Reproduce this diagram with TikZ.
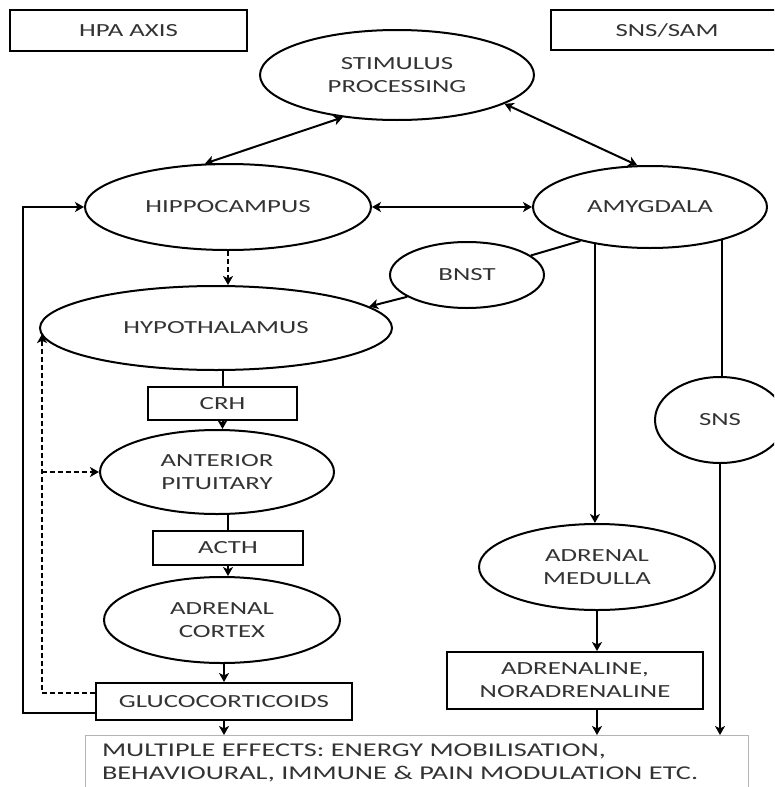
\documentclass[tikz,border=0pt]{standalone}
\usepackage{fontspec}
\setmainfont{Carlito}[FakeStretch=1.45]
\usetikzlibrary{shapes.geometric,arrows.meta}
\definecolor{txt}{HTML}{333333}
\definecolor{effline}{HTML}{B4B4B4}
\begin{document}
\begin{tikzpicture}[x=1pt,y=-1pt,
  nodefont/.style={font=\fontsize{18.5}{23}\selectfont},
  ell/.style={ellipse, draw, line width=2pt, inner sep=0pt, fill=white, nodefont, text=txt, align=center},
  box/.style={rectangle, draw, line width=2pt, inner sep=0pt, fill=white, nodefont, text=txt, align=center},
  effbox/.style={rectangle, draw=effline, line width=1pt, inner xsep=14pt, inner ysep=0pt, text height=21pt, text depth=45pt, fill=white, font=\fontsize{19.5}{22.5}\selectfont, text=txt, align=left, text width=630pt},
  conn/.style={line width=2pt},
  arr/.style={conn, -{Stealth[length=9pt,width=10pt,inset=2.5pt]}},
  dbl/.style={conn, {Stealth[length=9pt,width=10pt,inset=2.5pt]}-{Stealth[length=9pt,width=10pt,inset=2.5pt]}},
  dsh/.style={dash pattern=on 5pt off 3pt}]
\useasboundingbox (0,0) rectangle (774,787);
\clip (0,0) rectangle (774,787);
\fill[white] (0,0) rectangle (774,787);

% nodes
\node[box, minimum width=237pt, minimum height=41pt] (hpa) at (128.5,30.5) {HPA AXIS};
\node[box, minimum width=232pt, minimum height=40pt] (sam) at (667,30) {SNS/SAM};
\node[ell, minimum width=274pt, minimum height=90pt] (stim) at (397,75) {STIMULUS\\PROCESSING};
\node[ell, minimum width=286pt, minimum height=86pt] (hippo) at (228,207) {HIPPOCAMPUS};
\node[ell, minimum width=234pt, minimum height=82pt] (amyg) at (650,207) {AMYGDALA};
\node[ell, minimum width=154pt, minimum height=66pt] (bnst) at (467,275) {BNST};
\node[ell, minimum width=352pt, minimum height=84pt] (hypo) at (216,328) {HYPOTHALAMUS};
\node[box, minimum width=149pt, minimum height=33pt] (crh) at (222.5,403.5) {CRH};
\node[ell, minimum width=234pt, minimum height=84pt] (ap) at (217,472) {ANTERIOR\\PITUITARY};
\node[box, minimum width=150pt, minimum height=34pt] (acth) at (228,548) {ACTH};
\node[ell, minimum width=236pt, minimum height=86pt] (ac) at (222,620) {ADRENAL\\CORTEX};
\node[box, minimum width=256pt, minimum height=37pt] (gluco) at (224,701.5) {GLUCOCORTICOIDS};
\node[ell, minimum width=236pt, minimum height=86pt] (am) at (597,567) {ADRENAL\\MEDULLA};
\node[box, minimum width=256pt, minimum height=57pt] (adr) at (575,680.5) {ADRENALINE,\\NORADRENALINE};
\node[ell, minimum width=130pt, minimum height=86pt] (sns) at (720,420) {SNS};
\node[effbox, anchor=north west, minimum width=663pt] (eff) at (85,735) {MULTIPLE EFFECTS: ENERGY MOBILISATION,\\BEHAVIOURAL, IMMUNE \& PAIN MODULATION ETC.};

% connectors
\draw[dbl] (stim.218) -- (hippo.118);
\draw[dbl] (stim.345) -- (amyg.107);
\draw[dbl] (hippo.east) -- (amyg.west);
\draw[conn] (amyg.206) -- (bnst.17);
\draw[arr] (bnst.200) -- (hypo.8);
\draw[arr, dsh] (hippo.south) -- (hippo.south |- hypo.north);
\draw[conn] (crh.north |- hypo.south) -- (crh.north);
\draw[arr] (crh.south) -- (crh.south |- ap.north);
\draw[conn] (acth.north |- ap.south) -- (acth.north);
\draw[arr] (acth.south) -- (acth.south |- ac.north);
\draw[arr] (gluco.north |- ac.south) -- (gluco.north);
\draw[arr] (gluco.south) -- (gluco.south |- eff.north);

\coordinate (fbd) at (42,693);
\draw[arr, dsh] (gluco.west |- fbd) -- (fbd) -- (fbd |- hypo.182);
\draw[arr, dsh] (fbd |- ap.west) -- (ap.west);
\coordinate (fbs) at (23,713);
\draw[arr] (gluco.west |- fbs) -- (fbs) -- (fbs |- hippo.west) -- (hippo.west);

\draw[arr] (amyg.214.6) -- (amyg.214.6 |- am.north);
\draw[arr] (am.south) -- (am.south |- adr.north);
\draw[arr] (adr.south -| am.south) -- (am.south |- eff.north);
\draw[conn] (amyg.335) -- (amyg.335 |- sns.north);
\draw[arr] (sns.south) -- (sns.south |- eff.north);
\end{tikzpicture}
\end{document}
